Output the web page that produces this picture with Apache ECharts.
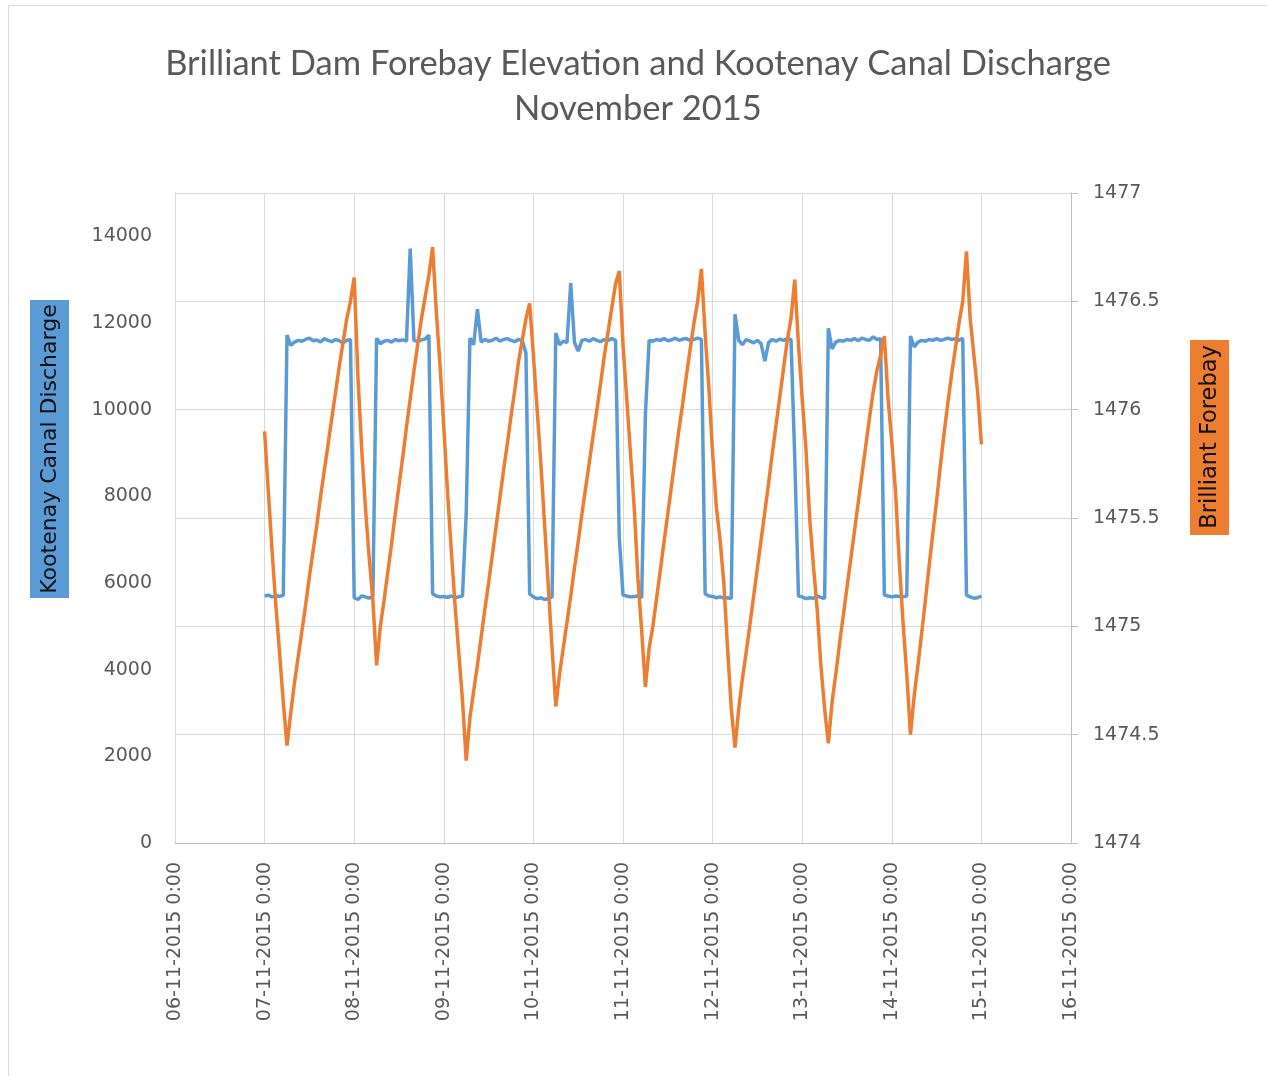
<!DOCTYPE html>
<html>
<head>
<meta charset="utf-8">
<script src="https://cdn.jsdelivr.net/npm/echarts@6/dist/echarts.min.js"></script>
<style>
html,body{margin:0;padding:0;background:#fff;}
#chart{width:1267px;height:1076px;}
</style>
</head>
<body>
<div id="chart"></div>
<script>
// ---- data (hourly samples, first sample at 07-11-2015 0:00; x in hours since 06-11-2015 0:00) ----
const titleLines = ['Brilliant Dam Forebay Elevation and Kootenay Canal Discharge', 'November 2015'];
const leftAxisName = 'Kootenay Canal Discharge';
const rightAxisName = 'Brilliant Forebay';
const xTickLabels = ['06-11-2015 0:00','07-11-2015 0:00','08-11-2015 0:00','09-11-2015 0:00','10-11-2015 0:00','11-11-2015 0:00','12-11-2015 0:00','13-11-2015 0:00','14-11-2015 0:00','15-11-2015 0:00','16-11-2015 0:00'];
const firstSampleHour = 24;
const stepHours = 1;

const discharge = [
  5700, 5720, 5680, 5710, 5690, 5720,
  11720, 11480, 11560, 11600, 11580, 11620, 11650, 11590, 11610, 11560, 11640, 11600, 11570, 11620, 11590, 11540, 11600, 11620,
  5660, 5620, 5700, 5680, 5650, 5700,
  11650, 11520, 11580, 11600, 11560, 11620, 11590, 11610, 11580, 13720, 11600, 11570, 11610, 11630, 11720,
  5750, 5700, 5680, 5690, 5670, 5700, 5660, 5680, 5700,
  7600,
  11650, 11500, 12320, 11560, 11620, 11580, 11600, 11650, 11580, 11620, 11640, 11600, 11570, 11620, 11600, 11300,
  5750, 5680, 5640, 5660, 5620, 5640, 5680,
  11770, 11500, 11580, 11550, 12920, 11550, 11350, 11600, 11620, 11580, 11640, 11600, 11570, 11620, 11600, 11640, 11600,
  7050,
  5720, 5700, 5680, 5690, 5700, 5660,
  9900,
  11600, 11580, 11620, 11600, 11640, 11590, 11610, 11650, 11600, 11630, 11640, 11600, 11620, 11650, 11620,
  5750, 5700, 5690, 5660, 5680, 5650, 5660, 5640,
  12200, 11600, 11500, 11620, 11580, 11540, 11600, 11520, 11120, 11550, 11620, 11580, 11630, 11600, 11640, 11620,
  8900,
  5700, 5680, 5640, 5660, 5650, 5700, 5670, 5640,
  11880, 11400, 11560, 11600, 11580, 11620, 11600, 11640, 11590, 11650, 11620, 11600, 11680, 11620, 11640,
  5720, 5700, 5680, 5700, 5690, 5680, 5700,
  11700, 11450, 11560, 11600, 11580, 11620, 11600, 11640, 11600, 11620, 11650, 11620, 11640, 11600, 11650,
  5720, 5680, 5650, 5660, 5700
];

const forebay = [
  1475.90, 1475.62, 1475.35, 1475.10, 1474.88, 1474.65, 1474.45,
  1474.60, 1474.74, 1474.86, 1474.98, 1475.10, 1475.23, 1475.35, 1475.47, 1475.60, 1475.72, 1475.84, 1475.96, 1476.08, 1476.20, 1476.31, 1476.42, 1476.50, 1476.61,
  1476.15, 1475.82, 1475.55, 1475.32, 1475.12, 1474.82,
  1475.00, 1475.12, 1475.25, 1475.38, 1475.52, 1475.65, 1475.78, 1475.92, 1476.05, 1476.18, 1476.30, 1476.42, 1476.52, 1476.62, 1476.75,
  1476.45, 1476.20, 1475.92, 1475.62, 1475.35, 1475.10, 1474.88, 1474.66, 1474.38,
  1474.58, 1474.70, 1474.82, 1474.95, 1475.08, 1475.20, 1475.33, 1475.46, 1475.59, 1475.72, 1475.84, 1475.97, 1476.09, 1476.22, 1476.32, 1476.42, 1476.49,
  1476.25, 1476.00, 1475.75, 1475.47, 1475.18, 1474.90, 1474.63,
  1474.78, 1474.90, 1475.02, 1475.14, 1475.27, 1475.39, 1475.52, 1475.64, 1475.76, 1475.88, 1476.00, 1476.12, 1476.25, 1476.36, 1476.47, 1476.58, 1476.64,
  1476.30, 1476.05, 1475.80, 1475.55, 1475.22, 1474.98, 1474.72,
  1474.90, 1475.00, 1475.13, 1475.26, 1475.39, 1475.52, 1475.65, 1475.78, 1475.91, 1476.03, 1476.16, 1476.28, 1476.40, 1476.50, 1476.65,
  1476.35, 1476.10, 1475.80, 1475.55, 1475.40, 1475.20, 1474.90, 1474.62, 1474.44,
  1474.62, 1474.76, 1474.88, 1475.01, 1475.14, 1475.27, 1475.40, 1475.53, 1475.66, 1475.80, 1475.93, 1476.06, 1476.19, 1476.32, 1476.42, 1476.60,
  1476.30, 1476.05, 1475.82, 1475.50, 1475.28, 1475.08, 1474.82, 1474.62, 1474.46,
  1474.65, 1474.78, 1474.92, 1475.05, 1475.18, 1475.31, 1475.44, 1475.57, 1475.70, 1475.83, 1475.96, 1476.08, 1476.18, 1476.25, 1476.34,
  1476.05, 1475.85, 1475.62, 1475.30, 1475.02, 1474.78, 1474.50,
  1474.68, 1474.82, 1474.97, 1475.12, 1475.28, 1475.43, 1475.58, 1475.74, 1475.89, 1476.03, 1476.16, 1476.28, 1476.40, 1476.50, 1476.73,
  1476.42, 1476.25, 1476.08, 1475.84
];

// ---- chart ----
const toPairs = arr => arr.map((v, i) => [firstSampleHour + i * stepHours, v]);
const labelFont = 'DejaVu Sans';
const grey = '#595959';

const chart = echarts.init(document.getElementById('chart'), null, {renderer: 'canvas'});
chart.setOption({
  animation: false,
  backgroundColor: '#ffffff',
  title: {
    text: titleLines.join('\n'),
    left: 633, top: 36, textAlign: 'center',
    textStyle: {fontFamily: 'Lato', fontWeight: 'normal', fontSize: 34.5, color: grey, lineHeight: 45}
  },
  grid: {left: 175, right: 196, top: 193, bottom: 233, containLabel: false},
  xAxis: {
    type: 'value', min: 0, max: 240, interval: 24,
    axisLine: {show: true, lineStyle: {color: '#bfbfbf', width: 1}},
    axisTick: {show: false},
    splitLine: {show: true, lineStyle: {color: '#d9d9d9', width: 1}},
    axisLabel: {
      rotate: 90, margin: 19, fontFamily: labelFont, fontSize: 19, color: grey,
      formatter: v => xTickLabels[Math.round(v / 24)]
    }
  },
  yAxis: [
    {
      type: 'value', position: 'left', min: 0, max: 15000, interval: 2000,
      axisLine: {show: true, lineStyle: {color: '#d9d9d9'}},
      axisTick: {show: false},
      splitLine: {show: false},
      axisLabel: {margin: 23, fontFamily: labelFont, fontSize: 19, color: grey, showMaxLabel: false, formatter: v => String(v)}
    },
    {
      type: 'value', position: 'right', min: 1474, max: 1477, interval: 0.5,
      axisLine: {show: true, lineStyle: {color: '#bfbfbf'}},
      axisTick: {show: true, inside: false, length: 7, lineStyle: {color: '#bfbfbf'}},
      splitLine: {show: true, lineStyle: {color: '#d9d9d9', width: 1}},
      axisLabel: {margin: 22, fontFamily: labelFont, fontSize: 19, color: grey, formatter: v => String(v)}
    }
  ],
  series: [
    {
      name: leftAxisName, type: 'line', yAxisIndex: 0, data: toPairs(discharge),
      showSymbol: false, symbol: 'none', lineStyle: {color: '#5B9BD5', width: 3.5}, itemStyle: {color: '#5B9BD5'}
    },
    {
      name: rightAxisName, type: 'line', yAxisIndex: 1, data: toPairs(forebay),
      showSymbol: false, symbol: 'none', lineStyle: {color: '#ED7D31', width: 3.5}, itemStyle: {color: '#ED7D31'}
    }
  ],
  graphic: [
    {type: 'rect', shape: {x: 8.5, y: 5.5, width: 1280, height: 1090}, style: {fill: 'none', stroke: '#d9d9d9', lineWidth: 1}, silent: true, z: -1},
    {type: 'rect', shape: {x: 30, y: 300, width: 39, height: 298}, style: {fill: '#5B9BD5'}, silent: true},
    {type: 'text', x: 50, y: 449, rotation: Math.PI / 2,
     style: {text: leftAxisName, fontFamily: labelFont, fontSize: 22, fill: '#111111', align: 'center', verticalAlign: 'middle'}},
    {type: 'rect', shape: {x: 1190, y: 340, width: 39, height: 195}, style: {fill: '#ED7D31'}, silent: true},
    {type: 'text', x: 1210, y: 437, rotation: Math.PI / 2,
     style: {text: rightAxisName, fontFamily: labelFont, fontSize: 22.5, fill: '#111111', align: 'center', verticalAlign: 'middle'}}
  ]
});
</script>
</body>
</html>
